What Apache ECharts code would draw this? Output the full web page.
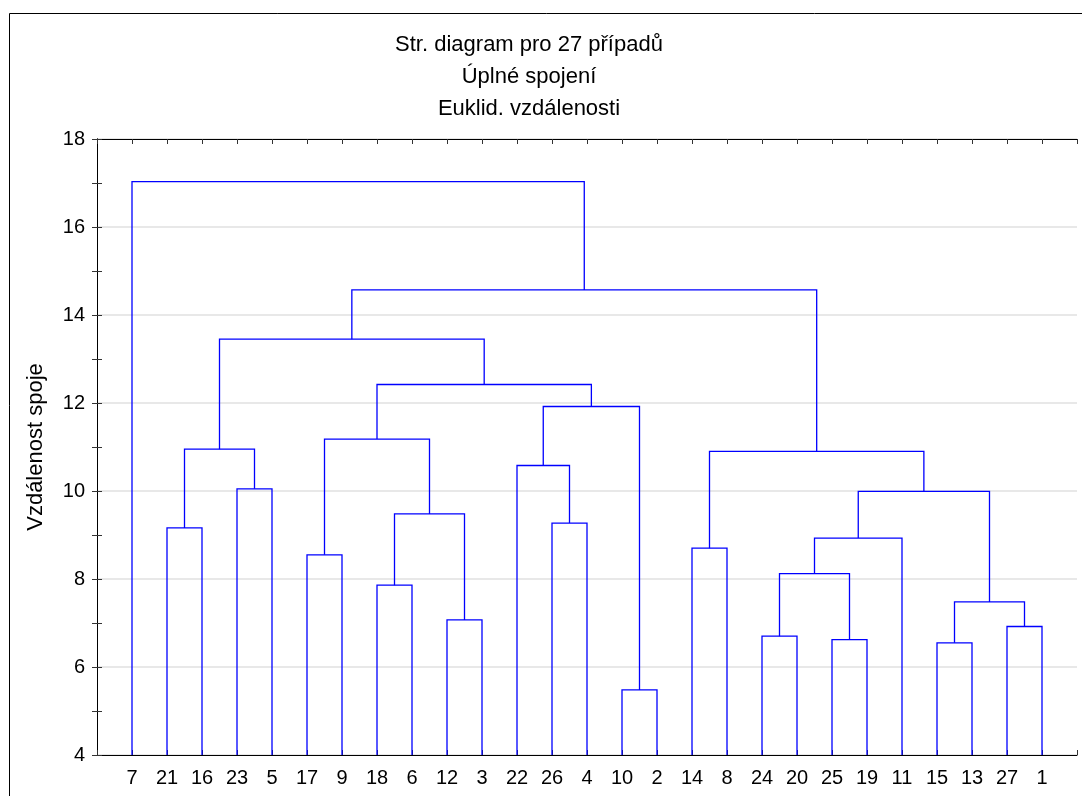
<!DOCTYPE html>
<html>
<head>
<meta charset="utf-8">
<script src="https://cdn.jsdelivr.net/npm/echarts@6/dist/echarts.min.js"></script>
<style>html,body{margin:0;padding:0;background:#fff;}#c{width:1082px;height:796px;}</style>
</head>
<body>
<div id="c"></div>
<script>
// Leaf order along the x axis (case numbers)
var leafLabels = ['7','21','16','23','5','17','9','18','6','12','3','22','26','4','10','2','14','8','24','20','25','19','11','15','13','27','1'];
// Linkage: [left member, right member, linkage distance]; clusters named c0, c1, ... in order
var merges = [
  ['21','16',9.16],
  ['23','5',10.05],
  ['c0','c1',10.95],
  ['17','9',8.55],
  ['18','6',7.86],
  ['12','3',7.07],
  ['c4','c5',9.48],
  ['c3','c6',11.18],
  ['26','4',9.27],
  ['22','c8',10.58],
  ['10','2',5.48],
  ['c9','c10',11.92],
  ['c7','c11',12.42],
  ['c2','c12',13.45],
  ['14','8',8.70],
  ['24','20',6.70],
  ['25','19',6.62],
  ['c15','c16',8.12],
  ['c17','11',8.93],
  ['15','13',6.55],
  ['27','1',6.92],
  ['c19','c20',7.48],
  ['c18','c21',9.99],
  ['c14','c22',10.90],
  ['c13','c23',14.57],
  ['7','c24',17.03]
];
var yTicks = [4,6,8,10,12,14,16,18];
var titleLines = ['Str. diagram pro 27 případů','Úplné spojení','Euklid. vzdálenosti'];
var yName = 'Vzdálenost spoje';

var yMin = 4, yMax = 18;
var node = {};
leafLabels.forEach(function(l,i){ node[l] = {x:i+1, h:yMin}; });
var segs = [];
merges.forEach(function(m,i){
  var a = node[m[0]], b = node[m[1]];
  segs.push([a.x, a.h, b.x, b.h, m[2]]);
  node['c'+i] = {x:(a.x+b.x)/2, h:m[2]};
});

var font = 'Arial, "Liberation Sans", sans-serif';
var chart = echarts.init(document.getElementById('c'));
var xBase = {
  type:'value', min:0, max:28, interval:1,
  axisLine:{show:true, lineStyle:{color:'#000', width:1}},
  axisTick:{show:true, inside:true, length:5, lineStyle:{color:'#333'}},
  splitLine:{show:false}
};
var yBase = {
  type:'value', min:yMin, max:yMax, interval:2,
  axisLine:{show:true, lineStyle:{color:'#000', width:1}},
  axisTick:{show:true, inside:true, length:5, lineStyle:{color:'#333'}},
  minorTick:{show:true, splitNumber:2, length:5, lineStyle:{color:'#333'}},
  splitLine:{show:false}
};
chart.setOption({
  animation:false,
  backgroundColor:'#fff',
  grid:{left:97, right:5, top:139, bottom:41, containLabel:false},
  graphic:[
    {type:'rect', shape:{x:9.5, y:13.5, width:1200, height:900}, style:{fill:null, stroke:'#000', lineWidth:1}, z:-1},
    {type:'text', style:{x:529, y:45, text:titleLines[0], textAlign:'center', textVerticalAlign:'middle', font:'22px '+font, fill:'#000'}},
    {type:'text', style:{x:529, y:77, text:titleLines[1], textAlign:'center', textVerticalAlign:'middle', font:'22px '+font, fill:'#000'}},
    {type:'text', style:{x:529, y:109, text:titleLines[2], textAlign:'center', textVerticalAlign:'middle', font:'22px '+font, fill:'#000'}}
  ],
  xAxis:[
    Object.assign({}, xBase, {position:'bottom',
      axisLabel:{show:true, margin:13, fontSize:20, fontFamily:font, color:'#000',
        formatter:function(v){ return (v>=1 && v<=27) ? leafLabels[v-1] : ''; }}}),
    Object.assign({}, xBase, {position:'top', axisLabel:{show:false}})
  ],
  yAxis:[
    Object.assign({}, yBase, {position:'left', name:yName, nameLocation:'middle', nameGap:50, nameRotate:90,
      nameTextStyle:{fontSize:22, fontFamily:font, color:'#000'},
      axisLabel:{show:true, margin:12, fontSize:20, fontFamily:font, color:'#000',
        formatter:function(v){ return yTicks.indexOf(v)>=0 ? String(v) : ''; }},
      splitLine:{show:true, lineStyle:{color:'#e0e0e0', width:1.5}}}),
    Object.assign({}, yBase, {position:'right', axisLabel:{show:false}})
  ],
  series:[{
    type:'custom',
    coordinateSystem:'cartesian2d',
    data:segs,
    encode:{x:[0,2], y:[1,3,4]},
    renderItem:function(params, api){
      var p1 = api.coord([api.value(0), api.value(1)]);
      var p2 = api.coord([api.value(0), api.value(4)]);
      var p3 = api.coord([api.value(2), api.value(4)]);
      var p4 = api.coord([api.value(2), api.value(3)]);
      return {type:'polyline', shape:{points:[p1,p2,p3,p4]}, style:{stroke:'#0000ff', lineWidth:1.3, fill:null}};
    }
  }]
});
</script>
</body>
</html>
